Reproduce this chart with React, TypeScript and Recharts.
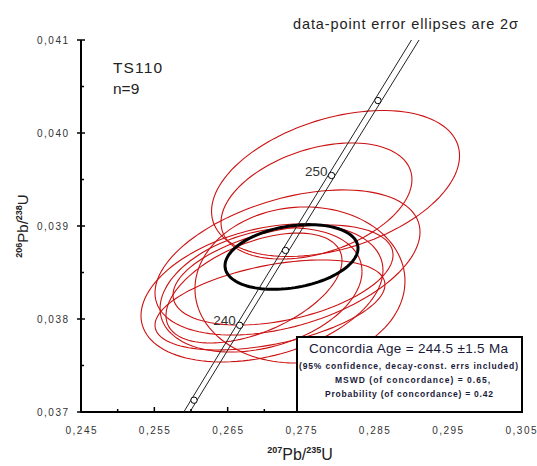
import React from 'react'
import { ScatterChart, Scatter, XAxis, YAxis } from 'recharts'

// data-point error ellipses (2 sigma): centre, half-widths, error correlation
const ellX = [0.27971, 0.27711, 0.27316, 0.27486, 0.26968, 0.26955, 0.26859, 0.27255, 0.27077]
const ellY = [0.039457, 0.039269, 0.038608, 0.038366, 0.03828, 0.038312, 0.038333, 0.038473, 0.038151]
const ellErrX = [0.01691, 0.01302, 0.01807, 0.01432, 0.0165, 0.01377, 0.012, 0.015, 0.01568]
const ellErrY = [0.000785, 0.000624, 0.00078, 0.000839, 0.000742, 0.000667, 0.000591, 0.000538, 0.000484]
const ellRho = [0.38, 0.37, 0.42, 0.05, 0.33, 0.3, 0.5, 0.4, 0.45]

// concordia age ellipse
const meanX = 0.273705
const meanY = 0.038667
const meanErrX = 0.009068
const meanErrY = 0.000348
const meanRho = 0.27

// concordia curve (Ma) with decay-constant band edges
const ages = [230, 235, 240, 245, 250, 255, 260]
const concX = [0.25422, 0.26041, 0.26664, 0.27289, 0.27917, 0.28549, 0.29181]
const concY = [0.036323, 0.037127, 0.037932, 0.038737, 0.039543, 0.040349, 0.041157]
const bandLoX = [0.25382, 0.25999, 0.2662, 0.27243, 0.27869, 0.28499, 0.29129]
const bandHiX = [0.25462, 0.26083, 0.26708, 0.27335, 0.27965, 0.28599, 0.29233]
const labelledAges = [240, 250]

const xTicks = [0.245, 0.25, 0.255, 0.26, 0.265, 0.27, 0.275, 0.28, 0.285, 0.29, 0.295, 0.3, 0.305]
const xTickLabels = ['0,245', '0,255', '0,265', '0,275', '0,285', '0,295', '0,305']
const yTicks = [0.037, 0.0375, 0.038, 0.0385, 0.039, 0.0395, 0.04, 0.0405, 0.041]
const yTickLabels = ['0,037', '0,038', '0,039', '0,040', '0,041']

const FONT = '"Liberation Sans", Arial, sans-serif'

function ellipse(cx: number, cy: number, ex: number, ey: number, rho: number) {
  const pts: { x: number; y: number }[] = []
  const k = Math.sqrt(1 - rho * rho)
  for (let i = 0; i <= 120; i++) {
    const t = (i / 120) * Math.PI * 2
    pts.push({ x: cx + ex * Math.cos(t), y: cy + ey * (rho * Math.cos(t) + k * Math.sin(t)) })
  }
  return pts
}

const ellipses = ellX.map((x, i) => ellipse(x, ellY[i], ellErrX[i], ellErrY[i], ellRho[i]))
const meanEllipse = ellipse(meanX, meanY, meanErrX, meanErrY, meanRho)
const concPts = ages.map((a, i) => ({ age: a, x: concX[i], y: concY[i] }))
const bandLo = ages.map((_, i) => ({ x: bandLoX[i], y: concY[i] }))
const bandHi = ages.map((_, i) => ({ x: bandHiX[i], y: concY[i] }))

function XTick(p: any) {
  const i = xTicks.indexOf(p.payload.value)
  const major = i % 2 === 0
  return (
    <g>
      <line x1={p.x} x2={p.x} y1={p.y - (major ? 5 : 3)} y2={p.y + (major ? 1 : 0)} stroke="#000" strokeWidth={1.5} />
      {major && (
        <text x={p.x} y={p.y + 22} textAnchor="middle" fontSize={10} fill="#333" fontFamily={FONT} textLength={31} lengthAdjust="spacing">
          {xTickLabels[i / 2]}
        </text>
      )}
    </g>
  )
}

function YTick(p: any) {
  const i = yTicks.indexOf(p.payload.value)
  const major = i % 2 === 0
  return (
    <g>
      <line x1={p.x - (major ? 4 : 0)} x2={p.x + (major ? 4 : 3)} y1={p.y} y2={p.y} stroke="#000" strokeWidth={1.5} />
      {major && (
        <text x={p.x - 44} y={p.y + 3.5} fontSize={10} fill="#333" fontFamily={FONT} textLength={31} lengthAdjust="spacing">
          {yTickLabels[i / 2]}
        </text>
      )}
    </g>
  )
}

function Marker(p: any) {
  if (p.cx == null) return <g />
  const lab = labelledAges.includes(p.payload.age)
  return (
    <g>
      <circle cx={p.cx} cy={p.cy} r={3.2} fill="#fff" stroke="#000" strokeWidth={1} />
      {lab && (
        <text x={p.cx - 4} y={p.cy} textAnchor="end" fontSize={13.5} fill="#333" fontFamily={FONT}>
          {p.payload.age}
        </text>
      )}
    </g>
  )
}

const noDot = () => <g />

export default function App() {
  return (
    <div style={{ position: 'absolute', left: 0, top: 0, width: 537, height: 466, background: '#fff' }}>
      <ScatterChart width={537} height={466} margin={{ top: 40, right: 16, bottom: 14, left: 0 }}>
        <XAxis
          type="number"
          dataKey="x"
          domain={[0.245, 0.305]}
          ticks={xTicks}
          interval={0}
          allowDataOverflow
          height={40}
          tickSize={0}
          tickMargin={0}
          tickLine={false}
          axisLine={{ stroke: '#000', strokeWidth: 2 }}
          tick={(p: any) => <XTick {...p} />}
        />
        <YAxis
          type="number"
          dataKey="y"
          domain={[0.037, 0.041]}
          ticks={yTicks}
          interval={0}
          allowDataOverflow
          width={81}
          tickSize={0}
          tickMargin={0}
          tickLine={false}
          axisLine={{ stroke: '#000', strokeWidth: 2 }}
          tick={(p: any) => <YTick {...p} />}
        />
        <XAxis xAxisId="top" orientation="top" type="number" dataKey="x" domain={[0.245, 0.305]} allowDataOverflow height={0} tick={false} tickLine={false} axisLine={{ stroke: '#000', strokeWidth: 1.5 }} />
        <YAxis yAxisId="right" orientation="right" type="number" dataKey="y" domain={[0.037, 0.041]} allowDataOverflow width={0} tick={false} tickLine={false} axisLine={{ stroke: '#000', strokeWidth: 1.5 }} />

        {ellipses.map((d, i) => (
          <Scatter key={i} data={d} line={{ stroke: '#cc1111', strokeWidth: 1.1 }} shape={noDot} isAnimationActive={false} />
        ))}
        <Scatter data={meanEllipse} line={{ stroke: '#000', strokeWidth: 3 }} shape={noDot} isAnimationActive={false} />
        <Scatter data={bandLo} line={{ stroke: '#222', strokeWidth: 1 }} shape={noDot} isAnimationActive={false} />
        <Scatter data={bandHi} line={{ stroke: '#222', strokeWidth: 1 }} shape={noDot} isAnimationActive={false} />
        <Scatter data={concPts} shape={(p: any) => <Marker {...p} />} isAnimationActive={false} />
      </ScatterChart>

      <svg width={537} height={466} style={{ position: 'absolute', left: 0, top: 0, pointerEvents: 'none' }} fontFamily={FONT}>
        <text x={293} y={29} fontSize={14.5} fill="#222" textLength={225} lengthAdjust="spacing">
          data-point error ellipses are 2σ
        </text>
        <text x={113} y={73} fontSize={15.5} fill="#222" textLength={49} lengthAdjust="spacing">TS110</text>
        <text x={113} y={94} fontSize={15.5} fill="#222">n=9</text>

        <text transform="translate(28,226) rotate(-90)" textAnchor="middle" fontSize={15} fill="#222">
          <tspan fontSize={9} fontWeight="bold" dy={-6}>206</tspan>
          <tspan dy={6}>Pb/</tspan>
          <tspan fontSize={9} fontWeight="bold" dy={-6}>238</tspan>
          <tspan dy={6}>U</tspan>
        </text>
        <text x={300} y={460} textAnchor="middle" fontSize={16} fill="#222">
          <tspan fontSize={9} fontWeight="bold" dy={-7}>207</tspan>
          <tspan dy={7}>Pb/</tspan>
          <tspan fontSize={9} fontWeight="bold" dy={-7}>235</tspan>
          <tspan dy={7}>U</tspan>
        </text>

        <rect x={297} y={337} width={225} height={75} fill="#fff" stroke="#000" strokeWidth={2} />
        <text x={309} y={353} fontSize={13.5} fill="#1a1a3a" textLength={199} lengthAdjust="spacing">
          Concordia Age = 244.5 ±1.5 Ma
        </text>
        <text x={299} y={369} fontSize={8.5} fontWeight="bold" fill="#1a1a3a" textLength={219} lengthAdjust="spacing">
          (95% confidence, decay-const. errs included)
        </text>
        <text x={335} y={383} fontSize={8.5} fontWeight="bold" fill="#1a1a3a" textLength={155} lengthAdjust="spacing">
          MSWD (of concordance) = 0.65,
        </text>
        <text x={325} y={397} fontSize={8.5} fontWeight="bold" fill="#1a1a3a" textLength={168} lengthAdjust="spacing">
          Probability (of concordance) = 0.42
        </text>
      </svg>
    </div>
  )
}
